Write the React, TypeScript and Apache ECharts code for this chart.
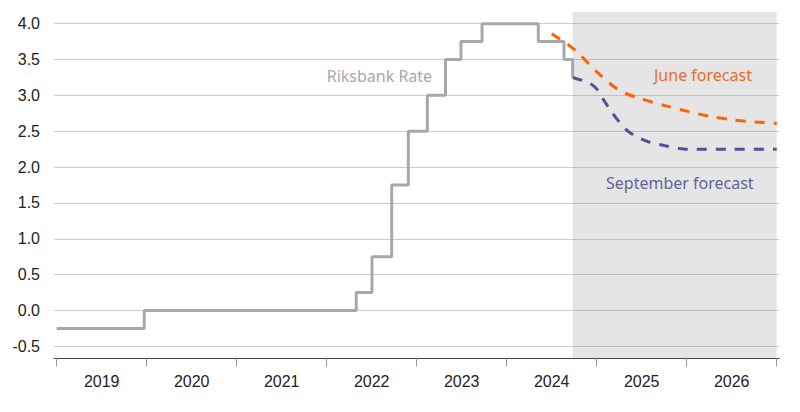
import React, { useEffect, useRef } from "react";
import * as echarts from "echarts";

// Year labels (centred within each year)
const yearLabels = ["2019", "2020", "2021", "2022", "2023", "2024", "2025", "2026"];
const yearTicks = [2019, 2020, 2021, 2022, 2023, 2024, 2025, 2026, 2027];
const yTicks = [-0.5, 0, 0.5, 1, 1.5, 2, 2.5, 3, 3.5, 4];

// Riksbank policy rate (step changes: date in fractional years, new level)
const rateDates = [2019.0, 2019.973, 2022.328, 2022.503, 2022.722, 2022.907, 2023.118, 2023.32, 2023.492, 2023.726, 2024.351, 2024.637, 2024.733];
const rateValues = [-0.25, 0, 0.25, 0.75, 1.75, 2.5, 3.0, 3.5, 3.75, 4.0, 3.75, 3.5, 3.25];

// June forecast
const juneDates = [2024.5, 2024.75, 2025.0, 2025.25, 2025.5, 2025.75, 2026.0, 2026.25, 2026.5, 2026.75, 2027.0];
const juneValues = [3.86, 3.64, 3.33, 3.07, 2.95, 2.86, 2.78, 2.71, 2.66, 2.63, 2.61];

// September forecast
const septDates = [2024.733, 2024.92, 2025.0, 2025.08, 2025.17, 2025.25, 2025.33, 2025.42, 2025.58, 2025.75, 2025.92, 2026.0, 2026.5, 2027.0];
const septValues = [3.25, 3.17, 3.09, 2.93, 2.76, 2.63, 2.52, 2.44, 2.35, 2.3, 2.26, 2.25, 2.25, 2.25];

// Forecast period shading
const forecastStart = 2024.733;
const forecastEnd = 2027.0;

const zip = (a: number[], b: number[]) => a.map((x, i) => [x, b[i]]);

export default function App() {
  const ref = useRef<HTMLDivElement>(null);
  useEffect(() => {
    if (!ref.current) return;
    const chart = echarts.init(ref.current, null, { renderer: "svg" });
    const axisFont = "'Liberation Sans', Arial, sans-serif";
    const textFont = "'Noto Sans', 'Open Sans', sans-serif";
    chart.setOption({
      animation: false,
      grid: { left: 54, right: 21, top: 11.7, bottom: 53.7, containLabel: false },
      xAxis: {
        type: "value",
        min: 2019 - 2.7 / 90,
        max: 2019 + (779 - 56.7) / 90,
        splitLine: { show: false },
        axisLine: { show: true, onZero: false, lineStyle: { color: "#444", width: 1 } },
        axisTick: {
          show: true,
          customValues: yearTicks,
          length: 8,
          lineStyle: { color: "#999", width: 1 },
        },
        axisLabel: {
          customValues: yearTicks.slice(0, -1).map((y) => y + 0.5),
          formatter: (v: number) => yearLabels[Math.floor(v) - 2019] ?? "",
          margin: 15,
          color: "#222",
          fontSize: 16,
          fontFamily: axisFont,
        },
      },
      yAxis: {
        type: "value",
        min: -0.6667,
        max: 4.1667,
        axisLine: { show: false },
        axisTick: { show: false, customValues: yTicks },
        axisLabel: {
          customValues: yTicks,
          formatter: (v: number) => v.toFixed(1),
          margin: 14,
          color: "#222",
          fontSize: 16,
          fontFamily: axisFont,
        },
        splitLine: { show: true, lineStyle: { color: "#cccccc", width: 1 } },
      },
      series: [
        {
          name: "Riksbank Rate",
          type: "line",
          step: "end",
          data: zip(rateDates, rateValues),
          showSymbol: false,
          lineStyle: { color: "#a8a8a8", width: 3 },
          z: 3,
          markArea: {
            silent: true,
            itemStyle: { color: "rgba(150,150,150,0.25)" },
            data: [[{ xAxis: forecastStart }, { xAxis: forecastEnd }]],
          },
        },
        {
          name: "June forecast",
          type: "line",
          smooth: 0.3,
          data: zip(juneDates, juneValues),
          showSymbol: false,
          lineStyle: { color: "#ff6200", width: 3, type: [10, 9] },
          z: 4,
        },
        {
          name: "September forecast",
          type: "line",
          smooth: 0.3,
          data: zip(septDates, septValues),
          showSymbol: false,
          lineStyle: { color: "#525199", width: 3, type: [10, 9] },
          z: 4,
        },
      ],
      graphic: [
        {
          type: "text",
          left: 326.7,
          top: 68,
          style: { text: "Riksbank Rate", fill: "#a8a8a8", fontSize: 16, fontFamily: textFont },
        },
        {
          type: "text",
          left: 654,
          top: 67,
          style: { text: "June forecast", fill: "#ff6200", fontSize: 16, fontFamily: textFont },
        },
        {
          type: "text",
          left: 606,
          top: 175,
          style: { text: "September forecast", fill: "#525199", fontSize: 16, fontFamily: textFont },
        },
      ],
    });
    return () => chart.dispose();
  }, []);
  return (
    <div
      ref={ref}
      style={{ position: "fixed", left: 0, top: 0, width: 800, height: 412, background: "#fff" }}
    />
  );
}
